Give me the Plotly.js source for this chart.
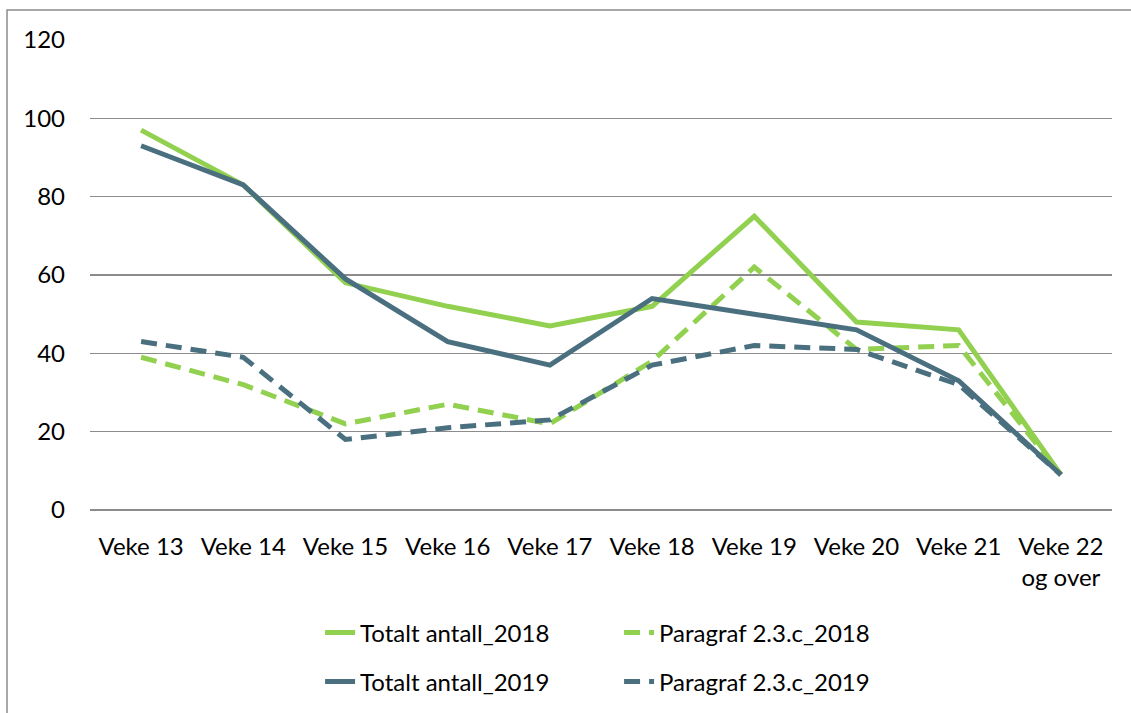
<!DOCTYPE html>
<html>
<head>
<meta charset="utf-8">
<script src="https://cdn.plot.ly/plotly-3.0.1.min.js"></script>
<style>
  html, body { margin: 0; padding: 0; background: #fff; }
  #chart { width: 1131px; height: 713px; }
</style>
</head>
<body>
<div id="chart"></div>
<script>
const categories = ["Veke 13", "Veke 14", "Veke 15", "Veke 16", "Veke 17", "Veke 18", "Veke 19", "Veke 20", "Veke 21", "Veke 22<br>og over"];
const totalt2018 = [97, 83, 58, 52, 47, 52, 75, 48, 46, 9];
const paragraf2018 = [39, 32, 22, 27, 22, 38, 62, 41, 42, 9];
const totalt2019 = [93, 83, 59, 43, 37, 54, 50, 46, 33, 9];
const paragraf2019 = [43, 39, 18, 21, 23, 37, 42, 41, 32, 9];
const yTicks = [0, 20, 40, 60, 80, 100, 120];

const green = "#92D050";
const slate = "#4A7080";
const FONT = "Lato, 'Open Sans', sans-serif";
const dashPat = "16px,9px";

const traces = [
  { x: categories, y: totalt2018, name: "Totalt antall_2018", type: "scatter", mode: "lines",
    line: { color: green, width: 5 }, legend: "legend" },
  { x: categories, y: paragraf2018, name: "Paragraf 2.3.c_2018", type: "scatter", mode: "lines",
    line: { color: green, width: 5, dash: dashPat }, legend: "legend" },
  { x: categories, y: totalt2019, name: "Totalt antall_2019", type: "scatter", mode: "lines",
    line: { color: slate, width: 5 }, legend: "legend2" },
  { x: categories, y: paragraf2019, name: "Paragraf 2.3.c_2019", type: "scatter", mode: "lines",
    line: { color: slate, width: 5, dash: dashPat }, legend: "legend2" }
];

const legendCommon = {
  orientation: "h", xref: "container", yref: "container",
  xanchor: "left", yanchor: "middle", x: 0.283,
  font: { family: FONT, size: 24, color: "#000" },
  entrywidth: 254, entrywidthmode: "pixels", bgcolor: "rgba(0,0,0,0)", traceorder: "normal"
};

const layout = {
  width: 1131, height: 713,
  margin: { l: 90, r: 19, t: 40, b: 203 },
  paper_bgcolor: "#fff", plot_bgcolor: "#fff",
  font: { family: FONT, size: 24, color: "#000" },
  showlegend: true,
  xaxis: {
    type: "category", range: [-0.5, 9.5], showgrid: false, zeroline: false,
    showline: false, ticks: "", ticklabelstandoff: 20,
    tickfont: { family: FONT, size: 24, color: "#000" },
    fixedrange: true
  },
  yaxis: {
    range: [0, 120], tickvals: yTicks, ticktext: yTicks.map(String),
    showgrid: true, gridcolor: "#8c8c8c", gridwidth: 1.5,
    zeroline: true, zerolinecolor: "#8c8c8c", zerolinewidth: 1.5,
    showline: false, ticks: "", ticklabelstandoff: 24,
    tickfont: { family: FONT, size: 24, color: "#000" }, fixedrange: true
  },
  legend: Object.assign({}, legendCommon, { y: 0.1122 }),
  legend2: Object.assign({}, legendCommon, { y: 0.0435 }),
  shapes: [
    { type: "rect", xref: "paper", yref: "paper",
      x0: -0.0812, x1: 1.05, y0: -0.6, y1: 1.0638,
      line: { color: "#8c8c8c", width: 1.5 }, fillcolor: "rgba(0,0,0,0)", layer: "below" }
  ]
};

Plotly.newPlot("chart", traces, layout, { displayModeBar: false, staticPlot: true });
</script>
</body>
</html>
